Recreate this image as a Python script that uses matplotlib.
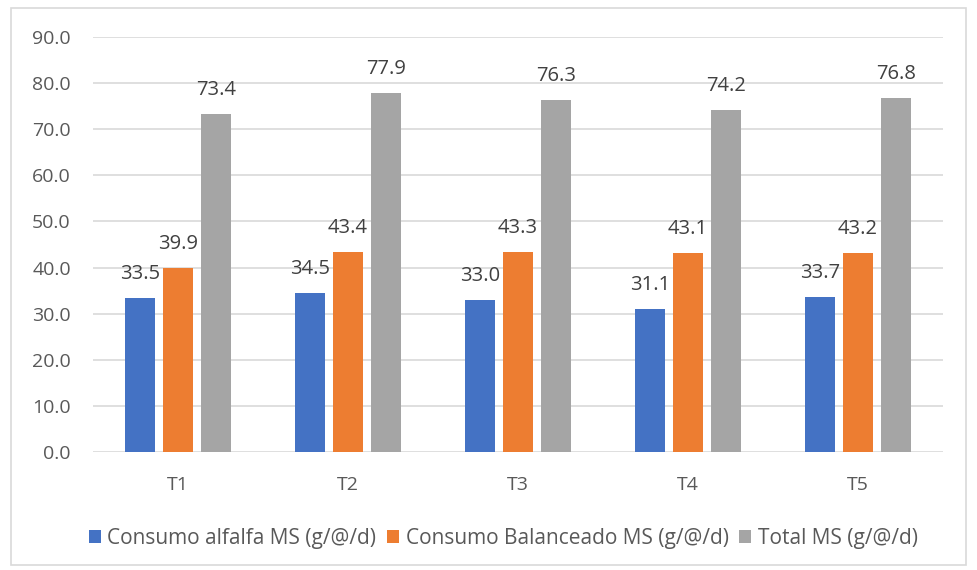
import matplotlib
matplotlib.use("Agg")
import matplotlib.pyplot as plt
import numpy as np
from matplotlib.patches import Rectangle

categories = ["T1", "T2", "T3", "T4", "T5"]
alfalfa = [33.5, 34.5, 33.0, 31.1, 33.7]
balanceado = [39.9, 43.4, 43.3, 43.1, 43.2]
total = [73.4, 77.9, 76.3, 74.2, 76.8]
series_names = ["Consumo alfalfa MS (g/@/d)", "Consumo Balanceado MS (g/@/d)", "Total MS (g/@/d)"]
colors = ["#4472C4", "#ED7D31", "#A5A5A5"]
yticks = [0, 10, 20, 30, 40, 50, 60, 70, 80, 90]

plt.rcParams["font.family"] = ["Open Sans", "DejaVu Sans"]
text_color = "#595959"

fig = plt.figure(figsize=(9.77, 5.70), dpi=100)
ax = fig.add_axes([0.0952, 0.207, 0.8700, 0.728])

x = np.arange(len(categories))
width = 0.176
offset = 0.2235
for i, (vals, name, c) in enumerate(zip([alfalfa, balanceado, total], series_names, colors)):
    pos = x + (i - 1) * offset
    bars = ax.bar(pos, vals, width=width, color=c, label=name, zorder=3)
    for b, v in zip(bars, vals):
        ax.annotate(f"{v:.1f}", (b.get_x() + b.get_width() / 2, v),
                    xytext=(0, 10), textcoords="offset points",
                    ha="center", va="bottom", fontsize=14.5, color="#404040")

ax.set_xlim(-0.5, len(categories) - 0.5)
ax.set_ylim(0, 90)
ax.set_yticks(yticks)
ax.set_yticklabels([f"{t:.1f}" for t in yticks])
ax.set_xticks(x)
ax.set_xticklabels(categories)
ax.tick_params(axis="both", length=0, labelsize=14, colors=text_color)
ax.tick_params(axis="y", pad=16)
ax.tick_params(axis="x", pad=17)
ax.grid(axis="y", color="#D9D9D9", linewidth=1.2, zorder=0)
for s in ax.spines.values():
    s.set_visible(False)

leg = fig.legend(loc="center", bbox_to_anchor=(0.515, 0.056), ncol=3, frameon=False,
                 fontsize=15, handlelength=0.6, handleheight=0.6, handletextpad=0.3,
                 columnspacing=0.5)
for t in leg.get_texts():
    t.set_color(text_color)

fig.patches.append(Rectangle((0.011, 0.008), 0.978, 0.978, transform=fig.transFigure,
                             fill=False, edgecolor="#D9D9D9", linewidth=1.2))

fig.savefig("out.png", dpi=100)
